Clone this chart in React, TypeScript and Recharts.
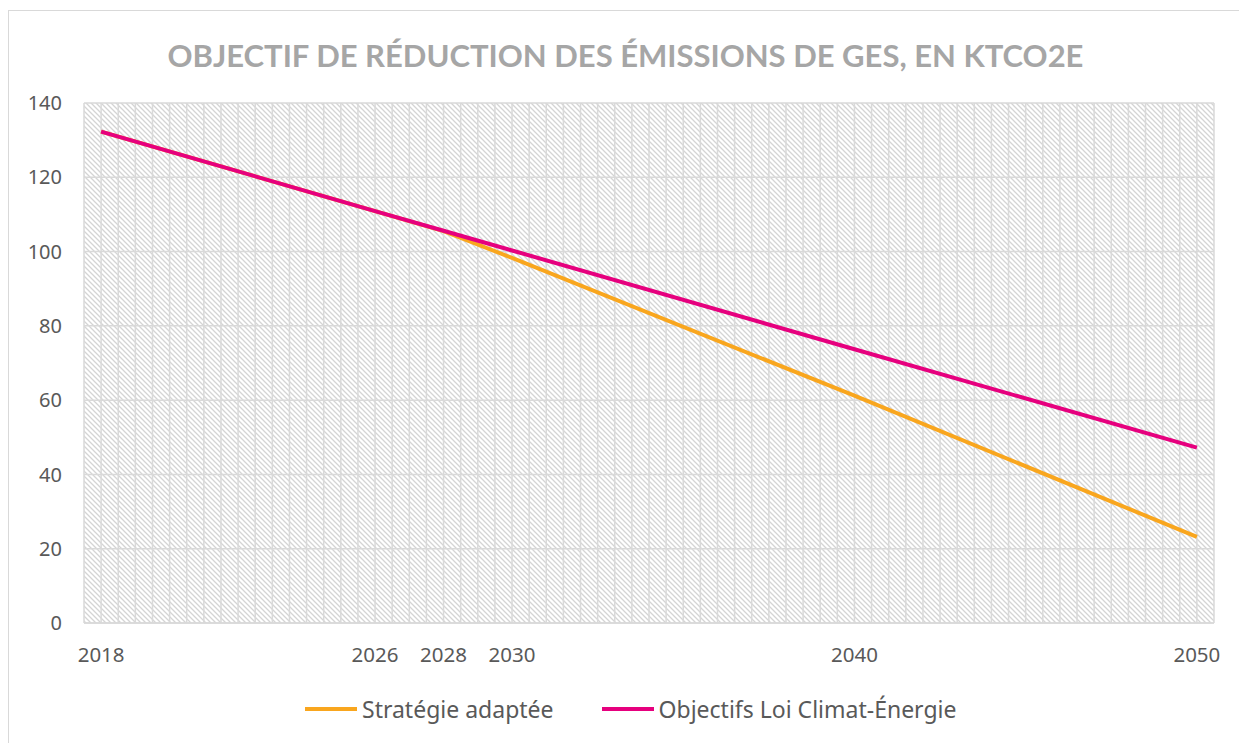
import { LineChart, Line, XAxis, YAxis, CartesianGrid } from 'recharts'

const years = [2018, 2026, 2028, 2030, 2040, 2050]
const strategie = [132.3, 110.9, 105.5, 98.3, 61.2, 23.2]
const objectifs = [132.3, 110.9, 105.6, 100.3, 73.7, 47.2]
const yTicks = [0, 20, 40, 60, 80, 100, 120, 140]
const seriesKeys = ['strategie', 'objectifs']
const seriesNames = ['Stratégie adaptée', 'Objectifs Loi Climat-Énergie']
const seriesColors = ['#F9A61E', '#E6007E']

const data = years.map((year, i) => ({ year, strategie: strategie[i], objectifs: objectifs[i] }))

// vertical gridlines every half year, like the original Excel chart
const gridYears: number[] = []
for (let y = 2017.5; y <= 2050.5; y += 0.5) gridYears.push(y)

const font = '"Noto Sans", sans-serif'

export default function App() {
  return (
    <div
      style={{
        position: 'relative',
        marginTop: 2,
        width: 1235,
        height: 733,
        border: '1px solid #d9d9d9',
        borderBottom: 'none',
        boxSizing: 'border-box',
        background: 'white',
      }}
    >
      <div
        style={{
          position: 'absolute',
          left: 0,
          top: 29,
          width: 1233,
          textAlign: 'center',
          fontFamily: 'Lato, sans-serif',
          fontWeight: 700,
          fontSize: 31,
          lineHeight: 1,
          color: '#a6a6a6',
        }}
      >
        OBJECTIF DE RÉDUCTION DES ÉMISSIONS DE GES, EN KTCO2E
      </div>

      <div style={{ position: 'absolute', left: 0, top: 0 }}>
        <LineChart width={1233} height={720} data={data} margin={{ top: 92, right: 28, left: 15, bottom: 68 }}>
          <defs>
            <pattern id="hatch" patternUnits="userSpaceOnUse" width="5" height="5">
              <path d="M0,0 L5,5 M-1,4 L1,6 M4,-1 L6,1" stroke="#d4d4d4" strokeWidth="1.3" />
            </pattern>
          </defs>
          <CartesianGrid stroke="#d9d9d9" strokeWidth={1.5} fill="url(#hatch)" verticalValues={gridYears} />
          <XAxis
            dataKey="year"
            type="number"
            domain={[2017.5, 2050.5]}
            ticks={years}
            interval={0}
            height={40}
            axisLine={{ stroke: '#d9d9d9', strokeWidth: 1.5 }}
            tickLine={false}
            tickSize={0}
            tickMargin={24}
            tick={{ fill: '#595959', fontSize: 20.5, fontFamily: font }}
          />
          <YAxis
            domain={[0, 140]}
            ticks={yTicks}
            width={60}
            axisLine={false}
            tickLine={false}
            tickSize={0}
            tickMargin={22}
            tick={{ fill: '#595959', fontSize: 20, fontFamily: font }}
          />
          {seriesKeys.map((key, i) => (
            <Line
              key={key}
              type="linear"
              dataKey={key}
              name={seriesNames[i]}
              stroke={seriesColors[i]}
              strokeWidth={4}
              dot={false}
              activeDot={false}
              isAnimationActive={false}
            />
          ))}
        </LineChart>
      </div>

      <div
        style={{
          position: 'absolute',
          left: 296,
          top: 682,
          display: 'flex',
          alignItems: 'center',
          gap: 48,
          fontFamily: font,
          fontSize: 23,
          color: '#595959',
        }}
      >
        {seriesNames.map((name, i) => (
          <div key={name} style={{ display: 'flex', alignItems: 'center' }}>
            <span style={{ display: 'inline-block', width: 52, height: 4, background: seriesColors[i], marginRight: 5 }} />
            <span>{name}</span>
          </div>
        ))}
      </div>
    </div>
  )
}
